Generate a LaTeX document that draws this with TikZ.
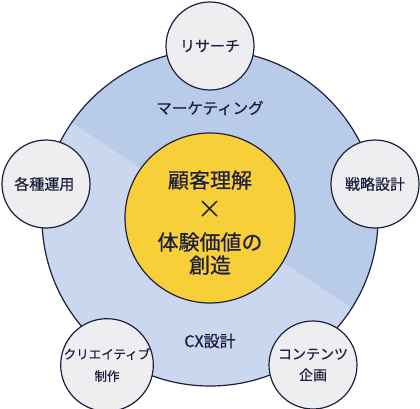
\documentclass[tikz,border=0pt]{standalone}
\usepackage{fontspec}
\setmainfont{Noto Sans CJK JP}[FakeBold=0.6]
\newfontfamily\thinfont{Noto Sans CJK JP}
\definecolor{ink}{HTML}{1E1F3F}
\definecolor{ringdark}{HTML}{B8CCEA}
\definecolor{ringlight}{HTML}{CAD7EE}
\definecolor{bubblefill}{HTML}{EEEEF1}
\definecolor{corefill}{HTML}{F7CF38}
\tikzset{
	bubble/.style={circle, draw=ink, line width=1.2pt, fill=bubblefill, minimum size=88pt, inner sep=0pt, text=ink, align=center, font=\fontsize{15}{18}\selectfont},
	smallbubble/.style={bubble, font=\fontsize{12.5}{22}\selectfont},
	ringlabel/.style={text=ink, font=\fontsize{15.5}{18}\selectfont},
	coretext/.style={text=ink, font=\fontsize{21}{24}\selectfont}
}
\begin{document}
\begin{tikzpicture}[x=1pt, y=1pt]
	\useasboundingbox (0,0) rectangle (420,408);

	%ring
	\coordinate (c) at (210,190);
	\fill [ringlight] (c) circle (168);
	\begin{scope}
		\clip (c) circle (168);
		\fill [ringdark, shift={(210,194)}] (146.5:300) -- (-33.5:300) -- (56.5:300) -- cycle;
	\end{scope}
	\draw [ink, line width=1.2pt] (c) circle (168);

	%core
	\node [circle, draw=ink, line width=1.2pt, fill=corefill, minimum size=170pt, inner sep=0pt] (core) at (c) {};
	\node [coretext] (insight) at (210,228) {顧客理解};
	\node [coretext, font=\thinfont\fontsize{25}{25}\selectfont] (times) at (210,198) {×};
	\node [coretext] (value) at (210,166) {体験価値の};
	\node [coretext] (create) at (210,143) {創造};

	%ring labels
	\node [ringlabel] (marketing) at (210,300) {マーケティング};
	\node [ringlabel, font=\fontsize{16}{18}\selectfont] (cx) at (210,67) {CX設計};

	%bubbles
	\foreach \n/\p/\t in {
		research/{(210,362)}/リサーチ,
		strategy/{(375,224)}/戦略設計,
		operation/{(46,224)}/各種運用
	}\node [bubble] (\n) at \p {\t};
	\node [smallbubble] (creative) at (107,43) {クリエイティブ\\制作};
	\node [bubble, font=\fontsize{14}{21}\selectfont] (content) at (313,43) {コンテンツ\\企画};

\end{tikzpicture}
\end{document}
